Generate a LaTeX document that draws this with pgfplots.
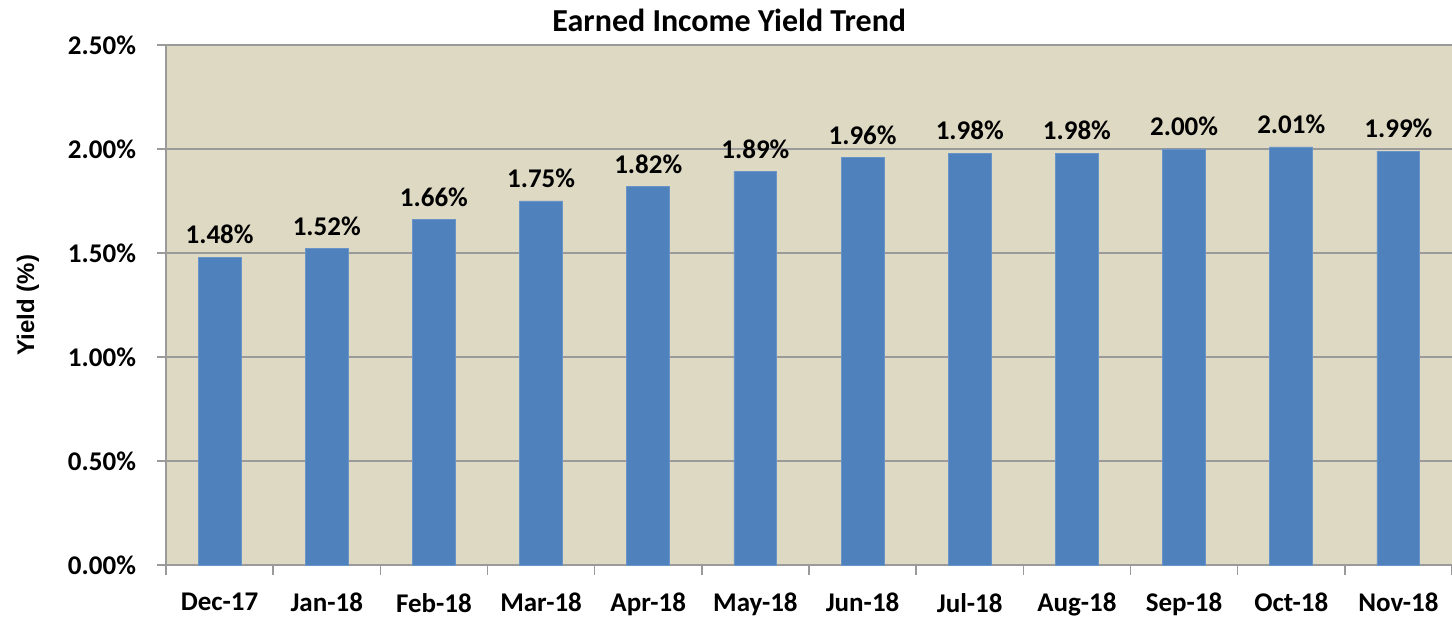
\documentclass[border=0pt]{standalone}
\usepackage{fontspec}
\setmainfont{Carlito}
\newfontfamily\arialb{Liberation Sans}
\usepackage{pgfplots}
\pgfplotsset{compat=1.18}
\definecolor{bgc}{HTML}{DDD9C3}
\definecolor{barc}{HTML}{4F81BD}
\definecolor{gridc}{HTML}{9A9A9A}
\begin{document}
\begin{tikzpicture}
\useasboundingbox (-83pt,-27.5pt) rectangle (643pt,282.5pt);
\begin{axis}[
  at={(0,0)}, anchor=south west,
  scale only axis, width=643pt, height=260pt,
  font=\fontsize{13.5pt}{15pt}\selectfont\bfseries,
  /pgf/number format/assume math mode=true,
  xmin=-0.5, xmax=11.5, ymin=0, ymax=2.5,
  ytick={0,0.5,...,2.5},
  yticklabel={\pgfmathprintnumber[fixed,fixed zerofill,precision=2]{\tick}\%},
  xtick={0,...,11},
  xticklabels={Dec-17,Jan-18,Feb-18,Mar-18,Apr-18,May-18,Jun-18,Jul-18,Aug-18,Sep-18,Oct-18,Nov-18},
  minor xtick={-0.5,0.5,...,11.5},
  major x tick style={draw=none},
  tick align=outside,
  major tick length=4.5pt, minor tick length=5pt,
  tick style={gridc, line width=0.8pt},
  axis x line*=bottom, axis y line*=left,
  axis line style={gridc, line width=0.8pt},
  ymajorgrids, grid style={gridc, line width=0.8pt},
  axis background/.style={fill=bgc},
  xticklabel style={yshift=-6pt},
  yticklabel style={xshift=-7pt},
  title={Earned Income Yield Trend},
  title style={at={(axis description cs:0.438,1.048)}, anchor=center, yshift=-6pt, font=\fontsize{16pt}{18pt}\selectfont\bfseries},
  nodes near coords={\pgfmathprintnumber[fixed,fixed zerofill,precision=2]{\pgfplotspointmeta}\%},
  nodes near coords style={font=\fontsize{13.5pt}{15pt}\selectfont\bfseries, anchor=south, yshift=3pt},
  clip=false,
]
\addplot[ybar, bar width=0.4, fill=barc, draw=barc!85!white] coordinates {
(0,1.48) (1,1.52) (2,1.66) (3,1.75) (4,1.82) (5,1.89)
(6,1.96) (7,1.98) (8,1.98) (9,2.00) (10,2.01) (11,1.99)};
\end{axis}
\node[rotate=90, anchor=center, inner sep=0pt] at (-69pt,130pt) {\arialb\bfseries\fontsize{12pt}{14pt}\selectfont Yield (\%)};
\end{tikzpicture}
\end{document}
